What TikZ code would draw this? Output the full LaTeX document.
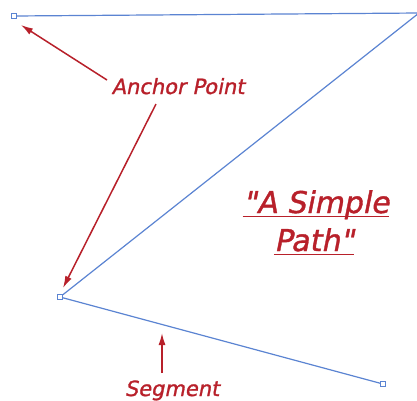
\documentclass[tikz,border=0pt]{standalone}
\usepackage{fontspec}
\setmainfont{DejaVu Sans}
\newfontfamily\lblfont[FakeSlant=0.2,FakeBold=1.2]{DejaVu Sans}
\usetikzlibrary{arrows.meta}
\definecolor{pathblue}{HTML}{5B84D2}
\definecolor{lblred}{HTML}{B8202A}
\tikzset{
  seg/.style={draw=pathblue, line width=1.2pt},
  anchorpt/.style={draw=pathblue, fill=white, line width=0.9pt, minimum size=5pt, inner sep=0pt, rectangle},
  callout/.style={draw=lblred, line width=1.5pt, -{Latex[length=12pt,width=7pt]}},
  lbl/.style={text=lblred, font=\lblfont\fontsize{21}{24}\selectfont, inner sep=0pt, anchor=base},
  title/.style={text=lblred, font=\lblfont\fontsize{30}{36}\selectfont, inner sep=0pt, anchor=base},
  uline/.style={draw=lblred, line width=1.6pt}
}
\begin{document}
\begin{tikzpicture}[x=1pt,y=-1pt]
\useasboundingbox[fill=white] (0,0) rectangle (417,400);
\coordinate (c2) at (419,13);
\node[anchorpt] (p1) at (14,16) {};
\node[anchorpt] (p3) at (60,297) {};
\node[anchorpt] (p4) at (383,384) {};
\draw[seg] (p1) -- (c2) -- (p3) -- (p4);
\node[anchorpt] at (14,16) {};
\node[anchorpt] at (60,297) {};
\node[anchorpt] at (383,384) {};
\node[lbl] (anc) at (178,94) {Anchor Point};
\node[lbl] (segl) at (172,396) {Segment};
\node[title] (t1) at (316,213) {"A Simple};
\node[title] (t2) at (314,251) {Path"};
\draw[uline] ([yshift=-3.5pt]t1.base west) -- ([yshift=-3.5pt]t1.base east);
\draw[uline] ([yshift=-3.5pt]t2.base west) -- ([yshift=-3.5pt]t2.base east);
\coordinate (a1s) at (107,80);
\coordinate (a2s) at (156,104);
\coordinate (s1s) at (162,373);
\draw[callout] (a1s) -- ([shift={(7pt,-9pt)}]p1.center);
\draw[callout] (a2s) -- ([shift={(3pt,9pt)}]p3.center);
\draw[callout] (s1s) -- (162,333);
\end{tikzpicture}
\end{document}
